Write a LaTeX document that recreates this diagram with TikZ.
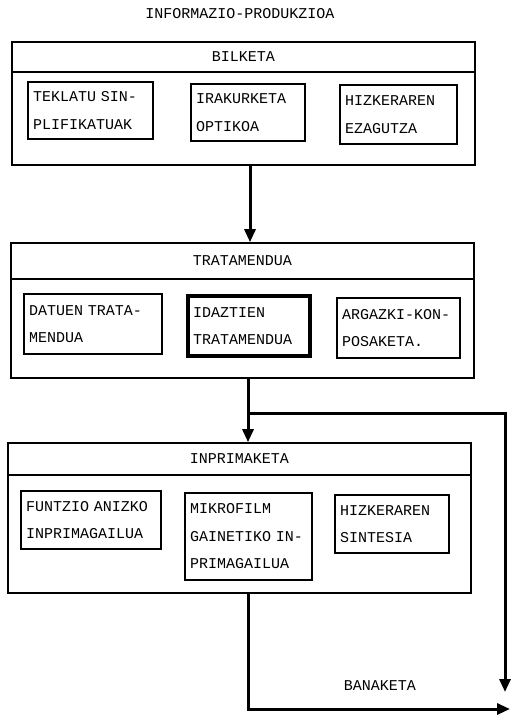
\documentclass[tikz,border=0pt]{standalone}
\usepackage{fontspec}
\setmonofont{Liberation Mono}
\usetikzlibrary{arrows.meta}
\begin{document}
\begin{tikzpicture}[x=1pt,y=-1pt,font=\ttfamily\fontsize{15}{27.5}\selectfont,
    flow/.style={line width=3pt,-{Triangle[length=13pt,width=11pt]}}]
  \useasboundingbox (0,0) rectangle (511,717);

  \node (title) at (240,14) {INFORMAZIO-PRODUKZIOA};

  % outer frames: header strip + body
  \begin{scope}[every node/.style={draw,line width=1.6pt,minimum width=463pt,inner sep=0pt}]
    \node[minimum height=30pt] (h1) at (243.5,57)    {BILKETA};
    \node[minimum height=93pt] (b1) at (243.5,118.5) {};
    \node[minimum height=36pt] (h2) at (242.5,261)   {TRATAMENDUA};
    \node[minimum height=99pt] (b2) at (242.5,328.5) {};
    \node[minimum height=32pt] (h3) at (239.5,459)   {INPRIMAKETA};
    \node[minimum height=118pt] (b3) at (239.5,534)  {};
  \end{scope}

  % inner boxes
  \begin{scope}[every node/.style={draw,line width=2pt,align=left,inner xsep=5pt,inner ysep=0pt}]
    \node[text width=115pt,minimum height=57pt] (1a) at (90.5,110.5) {TEKLATU SIN-\\PLIFIKATUAK};
    \node[text width=104pt,minimum height=57pt] (1b) at (248,112.5)  {IRAKURKETA\\OPTIKOA};
    \node[text width=107pt,minimum height=59pt] (1c) at (398.5,114.5) {HIZKERAREN\\EZAGUTZA};

    \node[text width=128pt,minimum height=60pt] (2a) at (93,324)     {DATUEN TRATA-\\MENDUA};
    \node[text width=112pt,minimum height=60pt,line width=3.2pt] (2b) at (249,326) {IDAZTIEN\\TRATAMENDUA};
    \node[text width=113pt,minimum height=60pt] (2c) at (398.5,328)  {ARGAZKI-KON-\\POSAKETA.};

    \node[text width=130pt,minimum height=58pt] (3a) at (91,520)     {FUNTZIO ANIZKO\\INPRIMAGAILUA};
    \node[text width=117pt,minimum height=87pt] (3b) at (248.5,536.5) {MIKROFILM\\GAINETIKO IN-\\PRIMAGAILUA};
    \node[text width=104pt,minimum height=58pt] (3c) at (392,524)    {HIZKERAREN\\SINTESIA};
  \end{scope}

  \node (banaketa) at (380,686) {BANAKETA};

  \coordinate (split) at (248,413);
  \coordinate (banR)  at (505,692);
  \coordinate (banB)  at (510,709);

  \draw[flow] ([xshift=6.5pt]b1.south) -- ([xshift=7.5pt]h2.north);
  \draw[line width=3pt] ([xshift=5.5pt]b2.south) -- (split);
  \draw[flow] (split) -- ([xshift=8.5pt]h3.north);
  \draw[flow] (split) -| (banR);
  \draw[flow] ([xshift=8.5pt]b3.south) |- (banB);

\end{tikzpicture}
\end{document}
